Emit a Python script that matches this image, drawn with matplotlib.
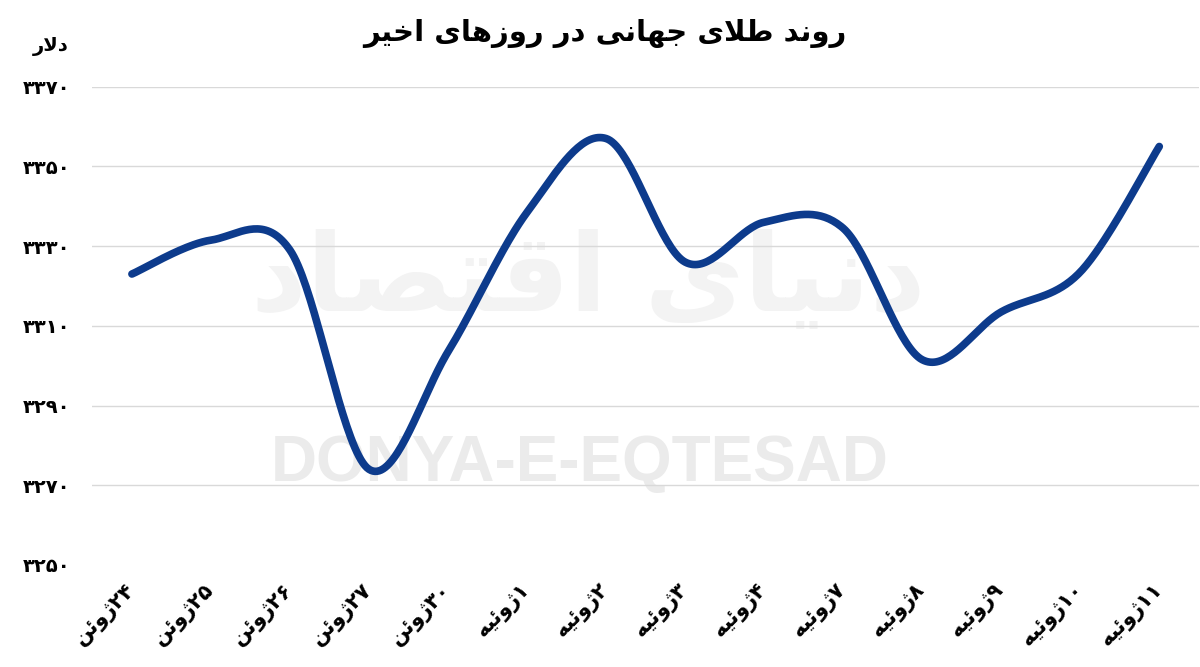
import re
import numpy as np
import matplotlib
matplotlib.use("Agg")
import matplotlib.pyplot as plt

# داده ها
tarikh = ["۲۴ژوئن", "۲۵ژوئن", "۲۶ژوئن", "۲۷ژوئن", "۳۰ژوئن", "۱ژوئیه", "۲ژوئیه",
          "۳ژوئیه", "۴ژوئیه", "۷ژوئیه", "۸ژوئیه", "۹ژوئیه", "۱۰ژوئیه", "۱۱ژوئیه"]
gheymat = [3323, 3331.5, 3329, 3274, 3303.5, 3338.5, 3357,
           3326, 3336, 3334.5, 3301.5, 3313.5, 3323.5, 3355]
tick_y = [3250, 3270, 3290, 3310, 3330, 3350, 3370]

TITR = "روند طلای جهانی در روزهای اخیر"
VAHED = "دلار"

# شکل حروف عربی/فارسی (matplotlib خودش حروف را نمی چسباند)
FORMS = {
    "ا": ("\uFE8D", "\uFE8E"),
    "د": ("\uFEA9", "\uFEAA"),
    "ر": ("\uFEAD", "\uFEAE"),
    "ز": ("\uFEAF", "\uFEB0"),
    "ژ": ("\uFB8A", "\uFB8B"),
    "و": ("\uFEED", "\uFEEE"),
    "ب": ("\uFE8F", "\uFE90", "\uFE91", "\uFE92"),
    "ت": ("\uFE95", "\uFE96", "\uFE97", "\uFE98"),
    "ج": ("\uFE9D", "\uFE9E", "\uFE9F", "\uFEA0"),
    "خ": ("\uFEA5", "\uFEA6", "\uFEA7", "\uFEA8"),
    "ص": ("\uFEB9", "\uFEBA", "\uFEBB", "\uFEBC"),
    "ط": ("\uFEC1", "\uFEC2", "\uFEC3", "\uFEC4"),
    "ق": ("\uFED5", "\uFED6", "\uFED7", "\uFED8"),
    "ل": ("\uFEDD", "\uFEDE", "\uFEDF", "\uFEE0"),
    "ن": ("\uFEE5", "\uFEE6", "\uFEE7", "\uFEE8"),
    "ه": ("\uFEE9", "\uFEEA", "\uFEEB", "\uFEEC"),
    "ی": ("\uFBFC", "\uFBFD", "\uFBFE", "\uFBFF"),
    "ئ": ("\uFE89", "\uFE8A", "\uFE8B", "\uFE8C"),
}


def shekl(matn):
    out = []
    i = 0
    while i < len(matn):
        c = matn[i]
        if c not in FORMS:
            out.append(c)
            i += 1
            continue
        prev = matn[i - 1] if i > 0 else None
        joins_prev = prev in FORMS and len(FORMS[prev]) == 4
        if c == "ل" and i + 1 < len(matn) and matn[i + 1] == "ا":
            out.append("\uFEFC" if joins_prev else "\uFEFB")
            i += 2
            continue
        nxt = matn[i + 1] if i + 1 < len(matn) else None
        f = FORMS[c]
        joins_next = len(f) == 4 and nxt in FORMS
        if joins_prev and joins_next:
            out.append(f[3])
        elif joins_prev:
            out.append(f[1])
        elif joins_next:
            out.append(f[2])
        else:
            out.append(f[0])
        i += 1
    return "".join(out)


def farsi(matn):
    s = shekl(matn)
    runs = re.findall(r"[0-9\u06F0-\u06F9]+|[^0-9\u06F0-\u06F9]+", s)
    out = []
    for r in reversed(runs):
        if re.match(r"[0-9\u06F0-\u06F9]", r):
            out.append(r)
        else:
            out.append(r[::-1])
    return "".join(out)


def adad_farsi(n):
    return str(n).translate(str.maketrans("0123456789", "۰۱۲۳۴۵۶۷۸۹"))


def smooth(y, n=40):
    # منحنی نرم شبیه اکسل (بزیه کاتمول-رام)
    x = np.arange(len(y), dtype=float)
    p = np.column_stack([x, np.array(y, dtype=float)])
    pp = np.vstack([p[0], p, p[-1]])
    xs, ys = [], []
    t = np.linspace(0, 1, n)[:, None]
    for i in range(len(p) - 1):
        p0, p1, p2, p3 = pp[i], pp[i + 1], pp[i + 2], pp[i + 3]
        c1 = p1 + (p2 - p0) / 6
        c2 = p2 - (p3 - p1) / 6
        b = ((1 - t) ** 3) * p1 + 3 * ((1 - t) ** 2) * t * c1 + 3 * (1 - t) * t ** 2 * c2 + t ** 3 * p2
        xs.extend(b[:, 0])
        ys.extend(b[:, 1])
    return np.array(xs), np.array(ys)


fig = plt.figure(figsize=(12, 6.67), dpi=100)
ax = fig.add_axes([0.077, 0.153, 0.922, 0.717])
ax.set_zorder(1)
ax.set_facecolor("none")

# واترمارک (زیر نمودار)
fig.text(0.483, 0.305, "DONYA-E-EQTESAD", fontsize=46, fontweight="bold",
         family="Liberation Sans", color="#ebebeb", ha="center", va="center", zorder=0)
fig.text(0.49, 0.58, farsi("دنیای اقتصاد"), fontsize=78, fontweight="bold",
         family="DejaVu Sans", color="#f3f3f3", ha="center", va="center", zorder=0)

sx, sy = smooth(gheymat)
ax.plot(sx, sy, color="#0d3b8c", linewidth=5.5, solid_capstyle="round", zorder=3)

ax.set_xlim(-0.5, len(tarikh) - 0.5)
ax.set_ylim(3250, 3370)
ax.set_yticks(tick_y)
ax.set_yticklabels([adad_farsi(v) for v in tick_y], fontsize=14, fontweight="bold",
                   family="DejaVu Sans")
ax.set_xticks(range(len(tarikh)))
ax.set_xticklabels([farsi(t) for t in tarikh], rotation=45, ha="right", va="center",
                   rotation_mode="anchor", fontsize=15, fontweight="bold", family="DejaVu Sans")
ax.tick_params(axis="both", length=0)
ax.tick_params(axis="y", pad=16)
ax.tick_params(axis="x", pad=16)

ax.grid(axis="y", color="#d9d9d9", linewidth=1)
ax.get_ygridlines()[0].set_visible(False)
ax.set_axisbelow(True)
for s in ax.spines.values():
    s.set_visible(False)

fig.text(0.504, 0.95, farsi(TITR), fontsize=21, fontweight="bold", family="DejaVu Sans",
         ha="center", va="center")
fig.text(0.042, 0.93, farsi(VAHED), fontsize=14, fontweight="bold", family="DejaVu Sans",
         ha="center", va="center")

fig.savefig("out.png", dpi=100)
